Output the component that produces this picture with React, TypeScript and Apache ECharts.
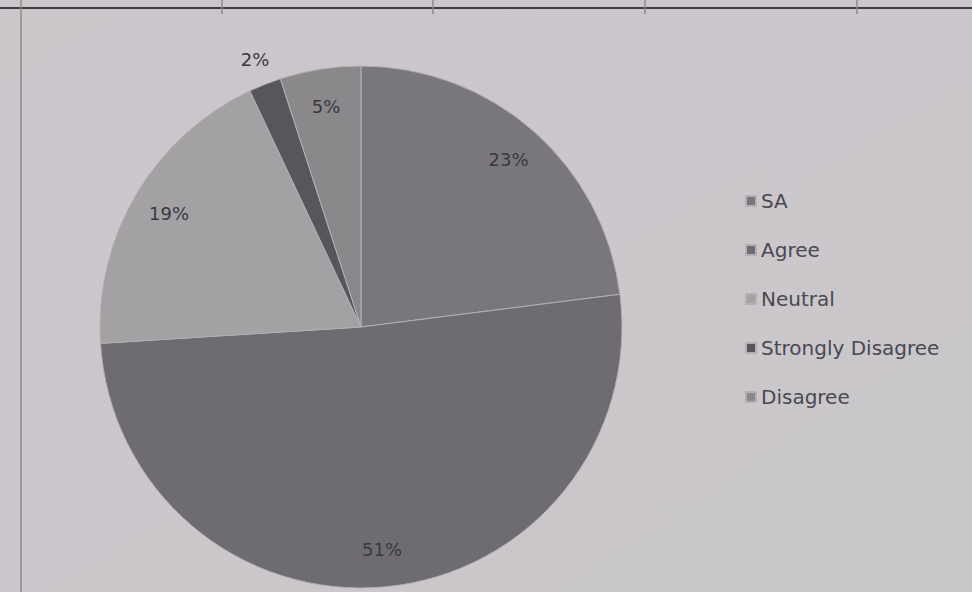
import React, { useEffect, useRef } from "react";
import * as echarts from "echarts";

const categories = ["SA", "Agree", "Neutral", "Strongly Disagree", "Disagree"];
const percents = [23, 51, 19, 2, 5];
const sliceColors = ["#7a777c", "#6f6c71", "#a3a1a4", "#58565a", "#8b888c"];

export default function App() {
  const ref = useRef<HTMLDivElement>(null);
  useEffect(() => {
    if (!ref.current) return;
    const chart = echarts.init(ref.current, undefined, { renderer: "svg" });
    const data = categories.map((name, i) => ({
      name,
      value: percents[i],
      itemStyle: { color: sliceColors[i] },
    }));
    const ghost = categories.map((name, i) => ({
      name,
      value: percents[i],
      itemStyle: { color: "rgba(0,0,0,0)" },
      label: { show: i !== 3 },
    }));
    const outer = categories.map((name, i) => ({
      name,
      value: percents[i],
      itemStyle: { color: "rgba(0,0,0,0)" },
      label: { show: i === 3 },
    }));
    const labelStyle = {
      formatter: "{c}%",
      fontFamily: "DejaVu Sans",
      fontSize: 18,
      color: "#3a3840",
      position: "inside",
    };
    chart.setOption({
      animation: false,
      backgroundColor: {
        type: "linear",
        x: 0,
        y: 0,
        x2: 1,
        y2: 1,
        colorStops: [
          { offset: 0, color: "#ccc6cb" },
          { offset: 0.6, color: "#cbc7cb" },
          { offset: 1, color: "#c9c7c9" },
        ],
      },
      legend: {
        orient: "vertical",
        left: 740,
        top: 186,
        itemWidth: 10,
        itemHeight: 10,
        itemGap: 29,
        icon: "rect",
        data: categories,
        textStyle: { fontFamily: "DejaVu Sans", fontSize: 20, color: "#4a4852" },
      },
      graphic: [
        { type: "line", shape: { x1: 0, y1: 8, x2: 972, y2: 8 }, style: { stroke: "#3e3c40", lineWidth: 2 } },
        { type: "line", shape: { x1: 21, y1: 0, x2: 21, y2: 592 }, style: { stroke: "#8e8a8e", lineWidth: 1.5 } },
        { type: "line", shape: { x1: 222, y1: 0, x2: 222, y2: 14 }, style: { stroke: "#8e8a8e", lineWidth: 1.5 } },
        { type: "line", shape: { x1: 433, y1: 0, x2: 433, y2: 14 }, style: { stroke: "#8e8a8e", lineWidth: 1.5 } },
        { type: "line", shape: { x1: 645, y1: 0, x2: 645, y2: 14 }, style: { stroke: "#8e8a8e", lineWidth: 1.5 } },
        { type: "line", shape: { x1: 857, y1: 0, x2: 857, y2: 14 }, style: { stroke: "#8e8a8e", lineWidth: 1.5 } },
      ],
      series: [
        {
          type: "pie",
          center: [361, 327],
          radius: [0, 261],
          startAngle: 90,
          clockwise: true,
          silent: true,
          data,
          label: { show: false },
          labelLine: { show: false },
          itemStyle: { borderColor: "#b3b0b3", borderWidth: 1 },
        },
        {
          type: "pie",
          center: [361, 327],
          radius: [180, 260],
          startAngle: 90,
          clockwise: true,
          silent: true,
          data: ghost,
          label: labelStyle,
          labelLine: { show: false },
        },
        {
          type: "pie",
          center: [361, 327],
          radius: [272, 298],
          startAngle: 90,
          clockwise: true,
          silent: true,
          data: outer,
          label: labelStyle,
          labelLine: { show: false },
        },
      ],
    });
    return () => chart.dispose();
  }, []);
  return <div ref={ref} style={{ width: 972, height: 592, position: "fixed", left: 0, top: 0 }} />;
}
